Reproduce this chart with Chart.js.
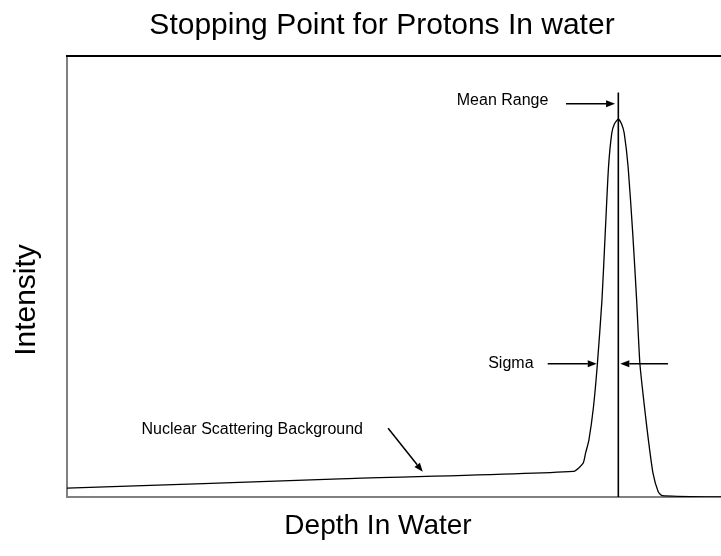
<!DOCTYPE html>
<html>
<head>
<meta charset="utf-8">
<script src="https://cdn.jsdelivr.net/npm/chart.js@4.4.1/dist/chart.umd.min.js"></script>
<style>
  body { margin: 0; background: #fff; }
</style>
</head>
<body>
<canvas id="bragg" width="721" height="556"></canvas>
<script>
const ctx = document.getElementById("bragg");

// depth (0..100 across the plot) and intensity (0..100 up the plot)
const depth = [0, 41.7, 77.4, 78.9, 79.3, 79.8, 80.5, 81.1, 81.8, 82.3, 82.8, 83.3, 83.7, 84.3,
               84.8, 85.2, 85.8, 86.5, 87.1, 87.6, 88.3, 88.9, 89.6, 90.4, 91.0, 100]
const intensity = [2.0, 4.1, 5.8, 7.6, 10.0, 12.9, 20.4, 30.2, 44.7, 59.9, 74.8, 82.5, 84.6, 85.7,
                   84.6, 82.5, 74.8, 59.9, 44.7, 30.2, 20.4, 12.9, 5.4, 1.2, 0.3, 0]

const meanDepth = 84.3
const meanTop = 91.7

const title = "Stopping Point for Protons In water"
const xTitle = "Depth In Water"
const yTitle = "Intensity"

const notes = [
  { text: "Mean Range", x: 59.6, y: 90.0 },
  { text: "Sigma", x: 64.4, y: 30.3 },
  { text: "Nuclear Scattering Background", x: 11.4, y: 15.3 }
]
const arrows = [
  { from: [76.3, 89.2], to: [83.8, 89.2] },
  { from: [73.5, 30.2], to: [81.0, 30.2] },
  { from: [91.9, 30.2], to: [84.6, 30.2] },
  { from: [49.1, 15.6], to: [54.4, 5.7] }
]

const FONT = "'Liberation Sans', Arial, sans-serif"

function arrow(c, x1, y1, x2, y2) {
  const a = Math.atan2(y2 - y1, x2 - x1)
  const len = 9, half = 3.5
  const bx = x2 - len * Math.cos(a), by = y2 - len * Math.sin(a)
  c.beginPath()
  c.moveTo(x1, y1)
  c.lineTo(bx, by)
  c.stroke()
  c.beginPath()
  c.moveTo(x2, y2)
  c.lineTo(bx + half * Math.sin(a), by - half * Math.cos(a))
  c.lineTo(bx - half * Math.sin(a), by + half * Math.cos(a))
  c.closePath()
  c.fill()
}

const decorations = {
  id: "decorations",
  afterDraw(chart) {
    const c = chart.ctx
    const area = chart.chartArea
    const xs = chart.scales.x, ys = chart.scales.y
    c.save()
    // top frame line
    c.strokeStyle = "#000"
    c.lineWidth = 2
    c.beginPath()
    c.moveTo(area.left - 1, area.top)
    c.lineTo(area.right, area.top)
    c.stroke()

    c.fillStyle = "#000"
    c.textBaseline = "middle"
    c.textAlign = "center"
    c.font = "30px " + FONT
    c.fillText(title, 382, 26)
    c.font = "28px " + FONT
    c.fillText(xTitle, 378, 526)
    c.save()
    c.translate(27, 300)
    c.rotate(-Math.PI / 2)
    c.font = "30px " + FONT
    c.fillText(yTitle, 0, 0)
    c.restore()

    c.textAlign = "left"
    c.font = "16px " + FONT
    notes.forEach(n => c.fillText(n.text, xs.getPixelForValue(n.x), ys.getPixelForValue(n.y)))

    c.lineWidth = 1.5
    c.strokeStyle = "#000"
    arrows.forEach(a => arrow(c,
      xs.getPixelForValue(a.from[0]), ys.getPixelForValue(a.from[1]),
      xs.getPixelForValue(a.to[0]), ys.getPixelForValue(a.to[1])))
    c.restore()
  }
}

const braggChart = new Chart(ctx, {
  type: "line",
  data: {
    datasets: [{
      label: "intensity",
      data: depth.map((d, i) => ({ x: d, y: intensity[i] })),
      borderColor: "#000",
      borderWidth: 1.3,
      pointRadius: 0,
      tension: 0.2,
      fill: false
    }, {
      label: "mean range",
      data: [{ x: meanDepth, y: 0 }, { x: meanDepth, y: meanTop }],
      borderColor: "#000",
      borderWidth: 1.6,
      pointRadius: 0
    }]
  },
  options: {
    responsive: false,
    animation: false,
    layout: { padding: { left: 67, top: 56, right: 0, bottom: 59 } },
    plugins: { legend: { display: false }, tooltip: { enabled: false } },
    scales: {
      x: {
        type: "linear", min: 0, max: 100,
        ticks: { display: false },
        grid: { display: false },
        border: { color: "#808080", width: 2 },
        afterFit: s => { s.height = 0 }
      },
      y: {
        min: 0, max: 100,
        ticks: { display: false },
        grid: { display: false },
        border: { color: "#808080", width: 2 },
        afterFit: s => { s.width = 0 }
      }
    }
  },
  plugins: [decorations]
});
</script>
</body>
</html>
